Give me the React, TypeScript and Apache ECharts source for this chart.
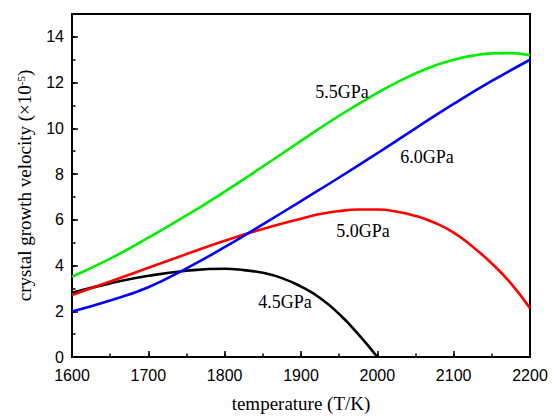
import React, { useEffect, useRef } from "react";
import * as echarts from "echarts";

const greenTemps = [1600, 1650, 1700, 1750, 1800, 1850, 1900, 1950, 2000, 2025, 2050, 2075, 2100, 2125, 2150, 2175, 2200];
const green55 = [3.51, 4.3, 5.22, 6.19, 7.23, 8.33, 9.45, 10.55, 11.55, 12.0, 12.4, 12.74, 13.0, 13.18, 13.28, 13.29, 13.19];
const blueTemps = [1600, 1650, 1700, 1750, 1800, 1850, 1900, 1950, 2000, 2050, 2100, 2150, 2200];
const blue60 = [1.99, 2.47, 3.05, 3.88, 4.8, 5.8, 6.82, 7.85, 8.91, 10.0, 11.07, 12.07, 13.0];
const redTemps = [1600, 1650, 1700, 1750, 1800, 1850, 1900, 1925, 1950, 1975, 2000, 2025, 2050, 2075, 2100, 2125, 2150, 2175, 2200];
const red50 = [2.71, 3.3, 3.9, 4.5, 5.08, 5.6, 6.05, 6.25, 6.38, 6.45, 6.45, 6.36, 6.17, 5.87, 5.44, 4.82, 4.09, 3.22, 2.13];
const blackTemps = [1600, 1650, 1700, 1750, 1800, 1825, 1850, 1875, 1900, 1925, 1950, 1975, 2000];
const black45 = [2.81, 3.22, 3.55, 3.77, 3.86, 3.8, 3.68, 3.45, 3.08, 2.58, 1.88, 1.0, 0];

const seriesNames = ["4.5GPa", "5.0GPa", "5.5GPa", "6.0GPa"];
const seriesColors = ["#000000", "#ff0000", "#00ee00", "#0000ff"];

const pair = (xs: number[], ys: number[]) => ys.map((y, i) => [xs[i], y]);

export default function App() {
  const ref = useRef<HTMLDivElement>(null);
  useEffect(() => {
    document.body.style.margin = "0";
    if (!ref.current) return;
    const chart = echarts.init(ref.current, null, { renderer: "svg" });
    const lineData = [
      pair(blackTemps, black45),
      pair(redTemps, red50),
      pair(greenTemps, green55),
      pair(blueTemps, blue60),
    ];
    const labelPos: [number, number][] = [
      [285, 302],
      [363, 231],
      [342, 92],
      [427, 157],
    ];
    const tickStyle = { color: "#000", width: 1.5 };
    const fmt = (v: number) => String(v);
    const option: any = {
      animation: false,
      grid: {
        left: 72,
        right: 22,
        top: 14,
        bottom: 59,
        show: true,
        borderColor: "#000",
        borderWidth: 2,
      },
      xAxis: [
        {
          type: "value",
          min: 1600,
          max: 2200,
          interval: 100,
          position: "bottom",
          axisLine: { show: true, lineStyle: { color: "#000", width: 2 } },
          axisTick: { inside: true, length: 6, lineStyle: tickStyle },
          axisLabel: { fontFamily: "Liberation Sans", fontSize: 16, color: "#000", margin: 10, formatter: fmt },
          splitLine: { show: false },
          name: "temperature (T/K)",
          nameLocation: "middle",
          nameGap: 37,
          nameTextStyle: { fontFamily: "Liberation Serif", fontSize: 19, color: "#000" },
        },
        {
          type: "value",
          min: 1600,
          max: 2200,
          interval: 50,
          position: "bottom",
          axisLine: { show: false },
          axisTick: { inside: true, length: 3.5, lineStyle: tickStyle },
          axisLabel: { show: false },
          splitLine: { show: false },
        },
      ],
      yAxis: [
        {
          type: "value",
          min: 0,
          max: 15,
          interval: 2,
          position: "left",
          axisLine: { show: true, lineStyle: { color: "#000", width: 2 } },
          axisTick: { inside: true, length: 6, lineStyle: tickStyle },
          axisLabel: {
            fontFamily: "Liberation Sans",
            fontSize: 16,
            color: "#000",
            margin: 8,
            showMaxLabel: false,
            formatter: fmt,
          },
          splitLine: { show: false },
          name: "{n|crystal growth velocity (×10}{s|-5}{n|)}",
          nameLocation: "middle",
          nameGap: 38,
          nameTextStyle: {
            rich: {
              n: { fontFamily: "Liberation Serif", fontSize: 19, color: "#000" },
              s: { fontFamily: "Liberation Serif", fontSize: 11, color: "#000", verticalAlign: "top", padding: [0, 0, 8, 0] },
            },
          },
        },
        {
          type: "value",
          min: 0,
          max: 15,
          interval: 1,
          position: "left",
          axisLine: { show: false },
          axisTick: { inside: true, length: 3.5, lineStyle: tickStyle },
          axisLabel: { show: false },
          splitLine: { show: false },
        },
      ],
      series: lineData.map((d, i) => ({
        type: "line",
        name: seriesNames[i],
        data: d,
        smooth: 0.5,
        showSymbol: false,
        symbol: "none",
        lineStyle: { color: seriesColors[i], width: 2.6 },
        xAxisIndex: 0,
        yAxisIndex: 0,
        z: 3,
      })),
      graphic: seriesNames.map((n, i) => ({
        type: "text",
        x: labelPos[i][0],
        y: labelPos[i][1],
        style: {
          text: n,
          fontFamily: "Liberation Serif",
          fontSize: 18,
          fill: "#000",
          align: "center",
          verticalAlign: "middle",
        },
        z: 10,
      })),
    };
    chart.setOption(option);
    return () => chart.dispose();
  }, []);
  return <div ref={ref} style={{ width: 552, height: 418 }} />;
}
